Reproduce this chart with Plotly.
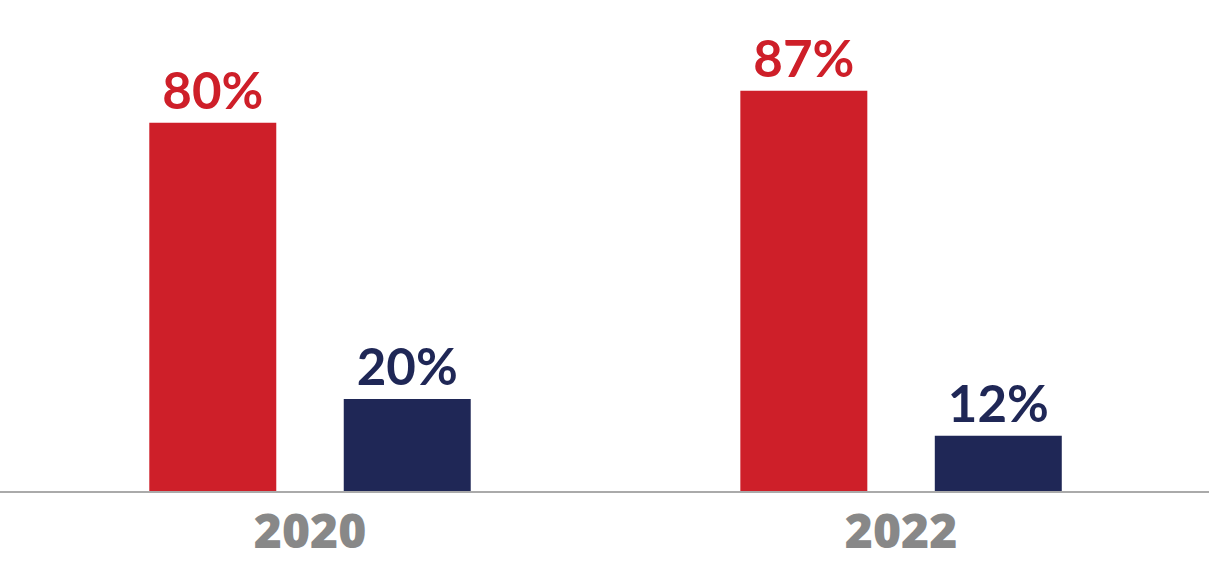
import plotly.graph_objects as go

years = ["2020", "2022"]
series_a = [80, 87]   # red
series_b = [20, 12]   # navy
labels_a = ["80%", "87%"]
labels_b = ["20%", "12%"]

RED = "#CE1F29"
NAVY = "#1F2756"

fig = go.Figure()
fig.add_trace(go.Bar(x=years, y=series_a, text=labels_a, textposition="outside",
                     marker=dict(color=RED, line=dict(width=0)),
                     textfont=dict(color=RED, size=51, family="Lato", weight="bold"),
                     cliponaxis=False, showlegend=False, hoverinfo="skip"))
fig.add_trace(go.Bar(x=years, y=series_b, text=labels_b, textposition="outside",
                     marker=dict(color=NAVY, line=dict(width=0)),
                     textfont=dict(color=NAVY, size=51, family="Lato", weight="bold"),
                     cliponaxis=False, showlegend=False, hoverinfo="skip"))

fig.update_layout(
    width=1209, height=561,
    margin=dict(l=0, r=0, t=0, b=70, autoexpand=False),
    paper_bgcolor="white", plot_bgcolor="white",
    barmode="group", bargap=0.342, bargroupgap=0.347,
    xaxis=dict(type="category", range=[-0.5245, 1.521], showline=True,
               linecolor="#AAAAAA", linewidth=2, showgrid=False, ticks="",
               tickfont=dict(size=48, color="#888888", family="Open Sans", weight=800),
               ticklabelstandoff=-3, automargin=False, fixedrange=True),
    yaxis=dict(range=[0, 106.7], visible=False, showgrid=False, zeroline=False,
               automargin=False, fixedrange=True),
)
fig.write_html("out.html", config={"displayModeBar": False},
               post_script="document.body.style.margin='0';document.body.style.overflow='hidden';")
